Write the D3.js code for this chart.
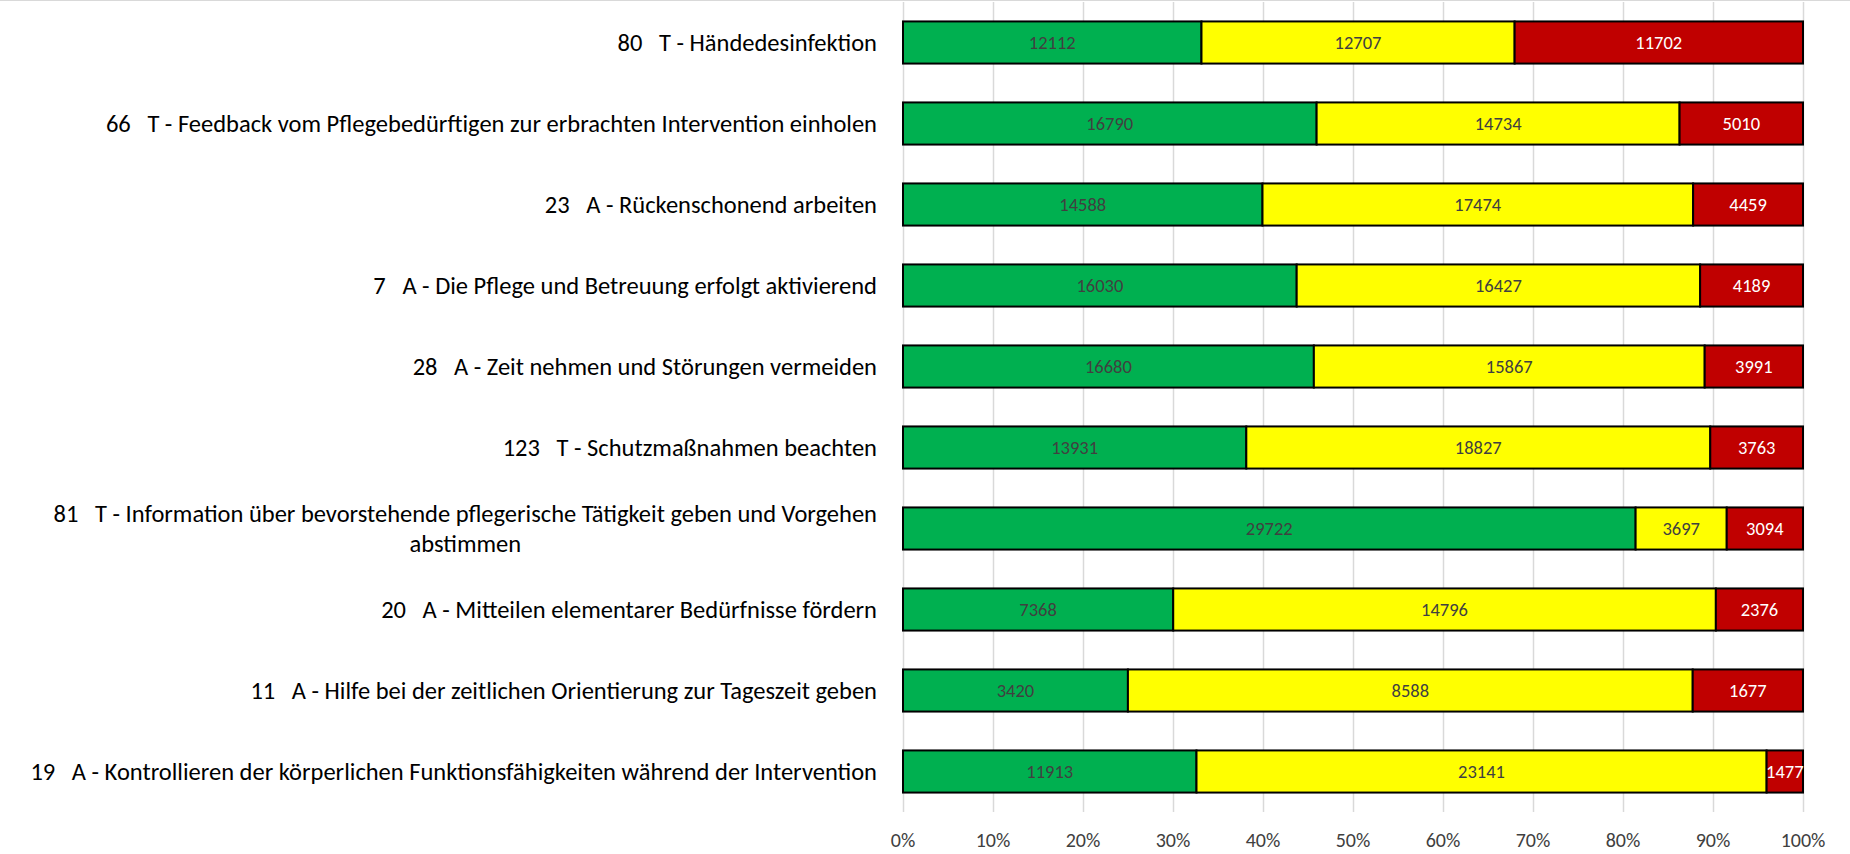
<!DOCTYPE html>
<html>
<head>
<meta charset="utf-8">
<script src="https://cdn.jsdelivr.net/npm/d3@7"></script>
<style>
  html, body { margin: 0; padding: 0; background: #fff; }
  svg { display: block; font-family: Carlito, Lato, "Liberation Sans", sans-serif; }
  .cat { white-space: pre; }
</style>
</head>
<body>
<div id="chart"></div>
<script>
// categories, top to bottom (multi-line labels split by \n)
var categories = [
    "80   T - Händedesinfektion",
    "66   T - Feedback vom Pflegebedürftigen zur erbrachten Intervention einholen",
    "23   A - Rückenschonend arbeiten",
    "7   A - Die Pflege und Betreuung erfolgt aktivierend",
    "28   A - Zeit nehmen und Störungen vermeiden",
    "123   T - Schutzmaßnahmen beachten",
    "81   T - Information über bevorstehende pflegerische Tätigkeit geben und Vorgehen\nabstimmen",
    "20   A - Mitteilen elementarer Bedürfnisse fördern",
    "11   A - Hilfe bei der zeitlichen Orientierung zur Tageszeit geben",
    "19   A - Kontrollieren der körperlichen Funktionsfähigkeiten während der Intervention"
];
var greenValues  = [12112, 16790, 14588, 16030, 16680, 13931, 29722, 7368, 3420, 11913];
var yellowValues = [12707, 14734, 17474, 16427, 15867, 18827, 3697, 14796, 8588, 23141];
var redValues    = [11702, 5010, 4459, 4189, 3991, 3763, 3094, 2376, 1677, 1477];
var tickValues = [0, 0.1, 0.2, 0.3, 0.4, 0.5, 0.6, 0.7, 0.8, 0.9, 1];

var seriesColors = ["#00B050", "#FFFF00", "#C00000"];
var labelColors = ["#404040", "#404040", "#ffffff"];

var W = 1850, H = 854;
var margin = {top: 2, right: 47, bottom: 42, left: 903};

var svg = d3.select("#chart").append("svg")
    .attr("width", W)
    .attr("height", H);

// chart border at top
svg.append("line")
    .attr("x1", 0).attr("x2", W)
    .attr("y1", 0.5).attr("y2", 0.5)
    .style("stroke", "#d9d9d9")
    .style("stroke-width", 1);

var xScale = d3.scaleLinear()
    .domain([0, 1])
    .range([margin.left, W - margin.right]);

var yScale = d3.scaleBand()
    .domain(d3.range(categories.length))
    .range([margin.top, H - margin.bottom])
    .paddingInner(0.48)
    .paddingOuter(0.24);

// gridlines
svg.append("g")
    .selectAll("line")
    .data(tickValues)
    .enter()
    .append("line")
    .attr("x1", d => Math.round(xScale(d)) + 0.5)
    .attr("x2", d => Math.round(xScale(d)) + 0.5)
    .attr("y1", margin.top)
    .attr("y2", H - margin.bottom)
    .style("stroke", "#d9d9d9")
    .style("stroke-width", 1.5);

// stacked rows (normalized to 100%)
var rows = categories.map((c, i) => {
    var vals = [greenValues[i], yellowValues[i], redValues[i]];
    var total = d3.sum(vals);
    var acc = 0;
    return vals.map((v, k) => {
        var seg = {row: i, k: k, value: v, x0: acc / total, x1: (acc + v) / total};
        acc += v;
        return seg;
    });
});
var segments = rows.flat();

svg.append("g")
    .selectAll("rect")
    .data(segments)
    .enter()
    .append("rect")
    .attr("x", d => xScale(d.x0))
    .attr("y", d => yScale(d.row))
    .attr("width", d => xScale(d.x1) - xScale(d.x0))
    .attr("height", yScale.bandwidth())
    .style("fill", d => seriesColors[d.k])
    .style("stroke", "#000")
    .style("stroke-width", 2);

svg.append("g")
    .selectAll("text")
    .data(segments)
    .enter()
    .append("text")
    .attr("x", d => (xScale(d.x0) + xScale(d.x1)) / 2)
    .attr("y", d => yScale(d.row) + yScale.bandwidth() / 2)
    .attr("dy", "0.35em")
    .attr("text-anchor", "middle")
    .style("font-size", "18.5px")
    .style("fill", d => labelColors[d.k])
    .text(d => d.value);

// category labels (multi-line block right aligned, lines centered in block)
var catG = svg.append("g");
categories.forEach((c, i) => {
    var lines = c.split("\n");
    var cy = yScale(i) + yScale.bandwidth() / 2;
    var lh = 30;
    var t = catG.append("text")
        .classed("cat", true)
        .style("font-size", "24.5px")
        .style("fill", "#000");
    lines.forEach((ln, j) => {
        t.append("tspan")
            .attr("y", cy + (j - (lines.length - 1) / 2) * lh)
            .attr("dy", "0.35em")
            .text(ln);
    });
    // measure widths to place lines
    var spans = t.selectAll("tspan").nodes();
    var widths = spans.map(s => s.getComputedTextLength());
    var maxW = d3.max(widths);
    var right = margin.left - 26;
    spans.forEach((s, j) => {
        d3.select(s).attr("x", right - maxW / 2).attr("text-anchor", "middle");
    });
});

// x axis tick labels
svg.append("g")
    .selectAll("text")
    .data(tickValues)
    .enter()
    .append("text")
    .attr("x", d => xScale(d))
    .attr("y", H - 14)
    .attr("dy", "0.35em")
    .attr("text-anchor", "middle")
    .style("font-size", "20px")
    .style("fill", "#404040")
    .text(d => d3.format(".0%")(d));
</script>
</body>
</html>
